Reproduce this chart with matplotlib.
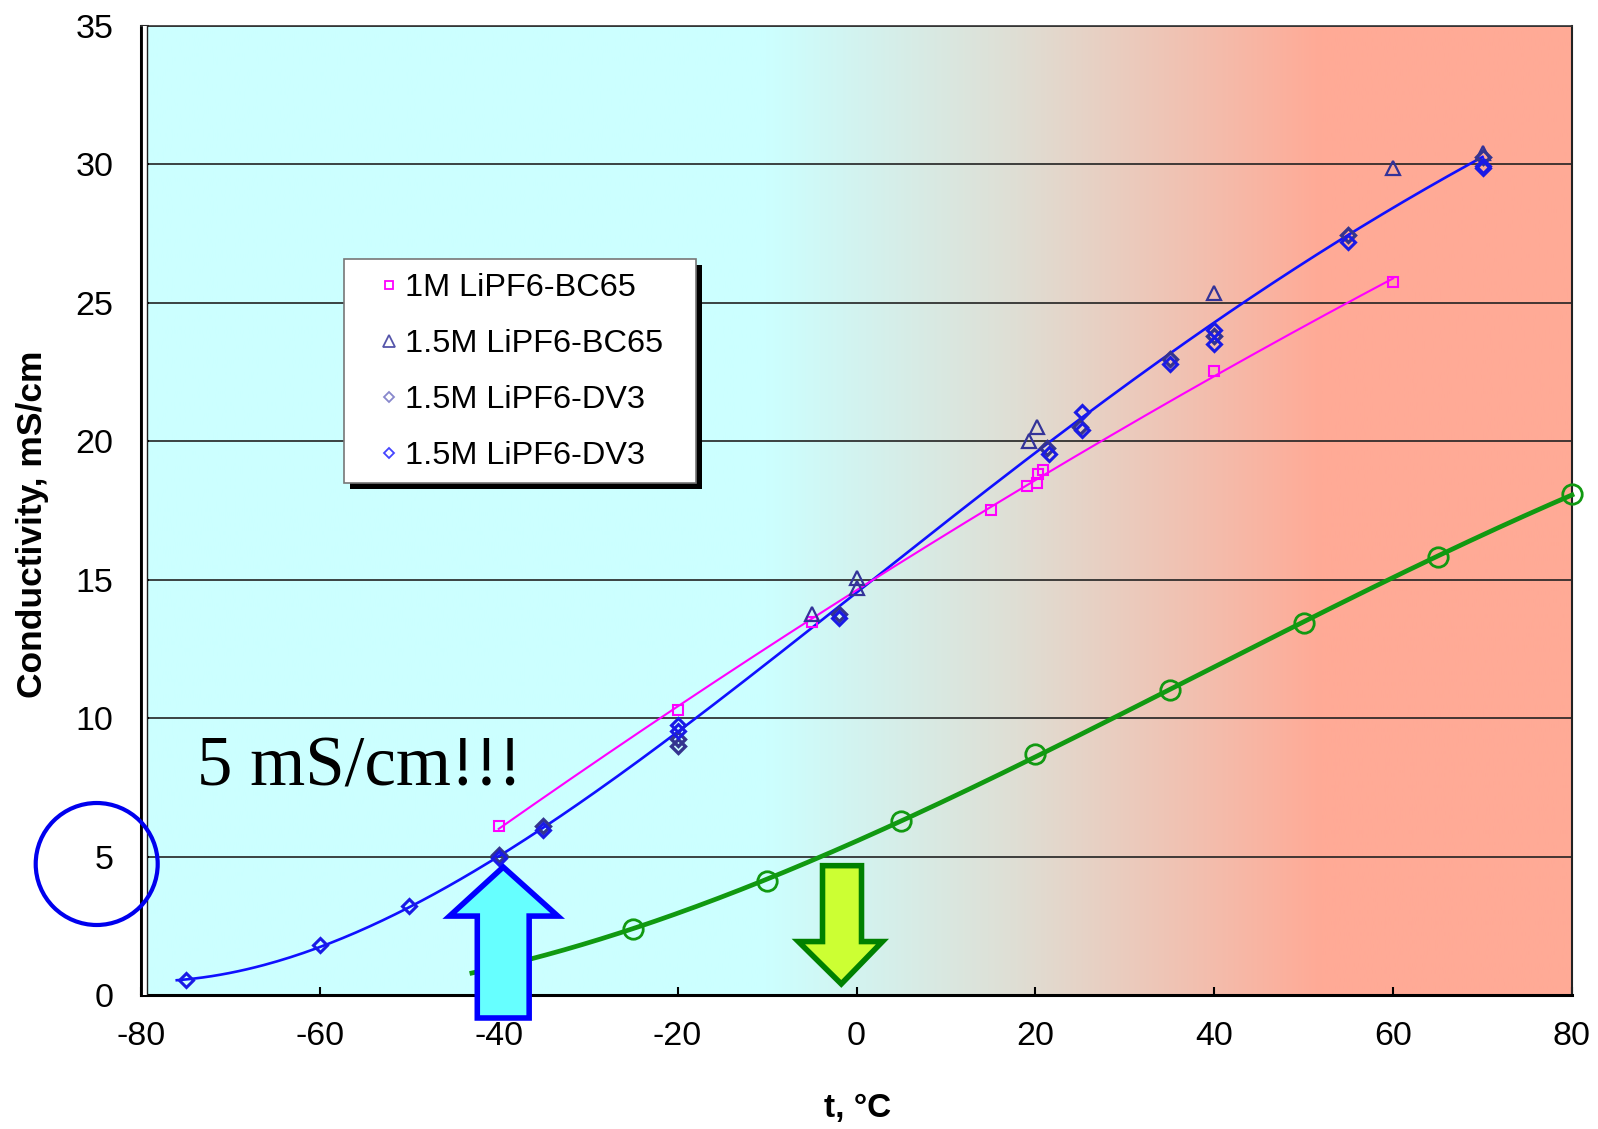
import numpy as np
import matplotlib
matplotlib.use("Agg")
import matplotlib.pyplot as plt
from matplotlib.lines import Line2D
from matplotlib.patches import Polygon, Ellipse, Rectangle
from matplotlib.colors import to_rgb
import matplotlib.transforms as mtransforms

plt.rcParams['font.family'] = ['Liberation Sans', 'DejaVu Sans']
plt.rcParams['axes.unicode_minus'] = False

# 1M LiPF6-BC65
t_bc65_1m = [-40, -20, -5, 15, 19.1, 20.2, 20.3, 20.9, 40, 60]
k_bc65_1m = [6.12, 10.28, 13.48, 17.52, 18.38, 18.5, 18.8, 18.95, 22.53, 25.74]

# 1.5M LiPF6-BC65
t_bc65_15m = [-5, 0, 0, 19.3, 20.2, 40, 60, 70]
k_bc65_15m = [13.74, 15.06, 14.69, 20.0, 20.5, 25.35, 29.85, 30.4]

# 1.5M LiPF6-DV3 (first run)
t_dv3_a = [-40, -35, -20, -20, -2, 21.3, 25, 35, 40, 55, 70]
k_dv3_a = [5.05, 6.1, 9.0, 9.25, 13.75, 19.75, 20.5, 22.95, 23.8, 27.45, 30.25]

# 1.5M LiPF6-DV3 (second run)
t_dv3_b = [-75, -60, -50, -40, -35, -20, -20, -2, 21.5, 25.2, 25.2, 35, 40, 40, 55, 70, 70]
k_dv3_b = [0.53, 1.82, 3.22, 4.95, 5.95, 9.55, 9.75, 13.6, 19.55, 21.06, 20.4, 22.8,
           24.0, 23.5, 27.2, 29.95, 29.85]

# Reference electrolyte
t_ref = [-40, -25, -10, 5, 20, 35, 50, 65, 80]
k_ref = [1.04, 2.37, 4.13, 6.30, 8.69, 11.01, 13.44, 15.83, 18.08]

labels = ['1M LiPF6-BC65', '1.5M LiPF6-BC65', '1.5M LiPF6-DV3', '1.5M LiPF6-DV3']
x_ticks = [-80, -60, -40, -20, 0, 20, 40, 60, 80]
y_ticks = [0, 5, 10, 15, 20, 25, 30, 35]

W, H = 1598, 1129
fig = plt.figure(figsize=(W / 100, H / 100), dpi=100)
ax = fig.add_axes([141 / W, 134 / H, 1431 / W, 969.3 / H])
ax.set_xlim(-80, 80)
ax.set_ylim(0, 35)

# temperature gradient background: cold cyan -> neutral -> warm salmon
stops_t = [-80, -10, 18, 52, 80]
stops_c = [to_rgb('#ccffff'), to_rgb('#ccffff'), (0.875, 0.871, 0.831),
           to_rgb('#ffaa96'), to_rgb('#ffaa96')]
xs = np.linspace(-80, 80, 800)
grad = np.stack([np.interp(xs, stops_t, [c[i] for c in stops_c]) for i in range(3)], axis=-1)
ax.imshow(grad[None, :, :], extent=(-80, 80, 0, 35), aspect='auto', zorder=0,
          interpolation='bilinear')

# horizontal grid
for y in y_ticks[1:]:
    ax.axhline(y, color='#222222', lw=1.2, zorder=1)

# fitted curves
t_blue = np.array(t_bc65_15m + t_dv3_a + t_dv3_b)
k_blue = np.array(k_bc65_15m + k_dv3_a + k_dv3_b)
pb = np.polyfit(t_blue, k_blue, 4)
xb = np.linspace(-76, 70, 300)
ax.plot(xb, np.polyval(pb, xb), color='#1010ff', lw=1.9, zorder=3)

pp = np.polyfit(t_bc65_1m, k_bc65_1m, 2)
xp = np.linspace(min(t_bc65_1m), max(t_bc65_1m), 200)
ax.plot(xp, np.polyval(pp, xp), color='#ff00ff', lw=1.5, zorder=3)

pg = np.polyfit(t_ref, k_ref, 3)
xg = np.linspace(-43, 80, 300)
ax.plot(xg, np.polyval(pg, xg), color='#119911', lw=3.4, zorder=3, clip_on=False)

# measured points
ax.plot(t_bc65_1m, k_bc65_1m, ls='none', marker='s', ms=6.5, mfc='none',
        mec='#ff00ff', mew=1.5, zorder=4)
ax.plot(t_bc65_15m, k_bc65_15m, ls='none', marker='^', ms=9.5, mfc='none',
        mec='#333399', mew=1.6, zorder=4)
ax.plot(t_dv3_a, k_dv3_a, ls='none', marker='D', ms=7.5, mfc='none',
        mec='#34348f', mew=2.4, zorder=4)
ax.plot(t_dv3_b, k_dv3_b, ls='none', marker='D', ms=7.5, mfc='none',
        mec='#1a1ae6', mew=2.2, zorder=5)
ax.plot(t_ref, k_ref, ls='none', marker='o', ms=14, mfc='none',
        mec='#119911', mew=2.0, zorder=5, clip_on=False)

# axes frame
for s in ['left', 'bottom']:
    ax.spines[s].set_linewidth(2.2)
    ax.spines[s].set_color('black')
ax.spines['top'].set_linewidth(1.2)
ax.spines['top'].set_color('#333333')
ax.spines['right'].set_linewidth(1.5)
ax.spines['right'].set_color('#222222')
inner = mtransforms.offset_copy(ax.transAxes, fig=fig, x=4, y=0, units='dots')
ax.add_line(Line2D([0, 0], [0, 1], transform=inner, color='white', lw=3, zorder=6))
inner2 = mtransforms.offset_copy(ax.transAxes, fig=fig, x=6, y=0, units='dots')
ax.add_line(Line2D([0, 0], [0, 1], transform=inner2, color='#222222', lw=1.0, zorder=6))

ax.set_xticks(x_ticks)
ax.set_yticks(y_ticks)
ax.tick_params(direction='in', length=6, width=1.5, labelsize=24.5, pad=20)
ax.tick_params(axis='x', pad=19)

fig.text(858 / W, 1 - 1109 / H, 't, °C', ha='center', va='center',
         fontsize=24, fontweight='bold')
fig.text(33 / W, 1 - 524 / H, 'Conductivity, mS/cm', ha='center', va='center',
         rotation=90, fontsize=25.5, fontweight='bold')

# annotation text
ax.text(-73.7, 7.58, '5 mS/cm!!!', family=['Liberation Serif', 'DejaVu Serif'],
        fontsize=51, va='baseline', ha='left', zorder=7)

# up arrow at -40 °C
up = Polygon([(-42.4, -0.83), (-36.6, -0.83), (-36.6, 2.85), (-33.4, 2.85),
              (-39.5, 4.62), (-45.5, 2.85), (-42.4, 2.85)], closed=True,
             facecolor='#66ffff', edgecolor='#0000ff', lw=4, zorder=8,
             clip_on=False, joinstyle='miter')
ax.add_patch(up)
# down arrow near 0 °C
down = Polygon([(-3.8, 4.67), (0.56, 4.67), (0.56, 1.93), (2.9, 1.93),
                (-1.7, 0.4), (-6.5, 1.93), (-3.8, 1.93)], closed=True,
               facecolor='#ccff33', edgecolor='#008000', lw=4, zorder=8,
               clip_on=False, joinstyle='miter')
ax.add_patch(down)

# highlight circle around the 5 mark
fig.patches.append(Ellipse((96.7 / W, 1 - 864 / H), 2 * 61 / W, 2 * 61 / H,
                           transform=fig.transFigure, fill=False, edgecolor='#0000ee',
                           lw=3, zorder=10))

# legend box with drop shadow (pixel coordinates)
box_x0, box_y0, box_x1, box_y1 = 344, H - 483, 696, H - 259
ax.add_patch(Rectangle((box_x0 + 6, box_y0 - 6), box_x1 - box_x0, box_y1 - box_y0,
                       transform=None, facecolor='black', edgecolor='none',
                       zorder=18, clip_on=False))
ax.add_patch(Rectangle((box_x0, box_y0), box_x1 - box_x0, box_y1 - box_y0,
                       transform=None, facecolor='white', edgecolor='#777777', lw=1.2,
                       zorder=19, clip_on=False))

handles = [
    Line2D([], [], ls='none', marker='s', ms=5.5, mfc='none', mec='#ff00ff', mew=1.3),
    Line2D([], [], ls='none', marker='^', ms=8, mfc='none', mec='#5555aa', mew=1.3),
    Line2D([], [], ls='none', marker='D', ms=5.5, mfc='none', mec='#8888cc', mew=1.3),
    Line2D([], [], ls='none', marker='D', ms=5.5, mfc='none', mec='#4444ff', mew=1.3),
]
leg = ax.legend(handles, labels, loc='upper left',
                bbox_to_anchor=(379 / W, 1 - 273 / H), bbox_transform=fig.transFigure,
                borderaxespad=0, borderpad=0, fontsize=23.4, frameon=False,
                handlelength=0.6, handletextpad=0.2, labelspacing=0.80)
leg.set_zorder(20)

fig.savefig('out.png', dpi=100)
